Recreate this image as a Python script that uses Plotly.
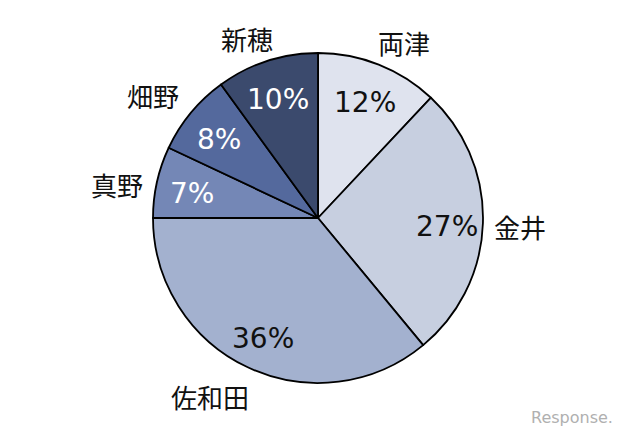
import math
import plotly.graph_objects as go

labels = ["両津", "金井", "佐和田", "真野", "畑野", "新穂"]
values = [12, 27, 36, 7, 8, 10]
colors = ["#dfe3ee", "#c7cfe0", "#a3b1cf", "#7487b6", "#54699d", "#3b4a6d"]
text_colors = ["#111111", "#111111", "#111111", "#ffffff", "#ffffff", "#ffffff"]

# outside name label positions (pixels, from top-left)
label_pos = {"両津": (404, 42), "金井": (520, 226), "佐和田": (210, 396),
             "真野": (117, 184), "畑野": (153, 95), "新穂": (247, 38)}

W, H = 640, 439
cx, cy, r = 318, 218, 165

fig = go.Figure(go.Pie(
    labels=labels, values=values, sort=False, direction="clockwise", rotation=0,
    marker=dict(colors=colors, line=dict(color="#000000", width=1.8)),
    textinfo="none",
    domain=dict(x=[(cx - r) / W, (cx + r) / W], y=[(H - cy - r) / H, (H - cy + r) / H]),
    showlegend=False, hoverinfo="label+percent",
))

# percentage labels placed along each slice's mid-angle
total = sum(values)
cum = 0
for v, tc in zip(values, text_colors):
    mid = (cum + v / 2) / total * 2 * math.pi
    cum += v
    px = cx + 0.78 * r * math.sin(mid)
    py = cy - 0.78 * r * math.cos(mid) + 4
    fig.add_annotation(x=px / W, y=1 - py / H, xref="paper", yref="paper",
                       text=f"{round(v / total * 100)}%", showarrow=False,
                       font=dict(family="DejaVu Sans", size=28, color=tc),
                       xanchor="center", yanchor="middle")

for name in labels:
    x, y = label_pos[name]
    fig.add_annotation(x=x / W, y=1 - y / H, xref="paper", yref="paper", text=name,
                       showarrow=False, font=dict(family="Noto Sans CJK JP", size=26, color="#111111"),
                       xanchor="center", yanchor="middle")

fig.add_annotation(x=572 / W, y=1 - 417 / H, xref="paper", yref="paper", text="Response.",
                   showarrow=False, font=dict(family="DejaVu Sans", size=16, color="#b0b0b0"),
                   xanchor="center", yanchor="middle")

fig.update_layout(width=W, height=H, margin=dict(l=0, r=0, t=0, b=0),
                  paper_bgcolor="white", plot_bgcolor="white")
fig.write_html("out.html", config={"displayModeBar": False},
               post_script="document.body.style.margin='0';document.body.style.overflow='hidden';")
